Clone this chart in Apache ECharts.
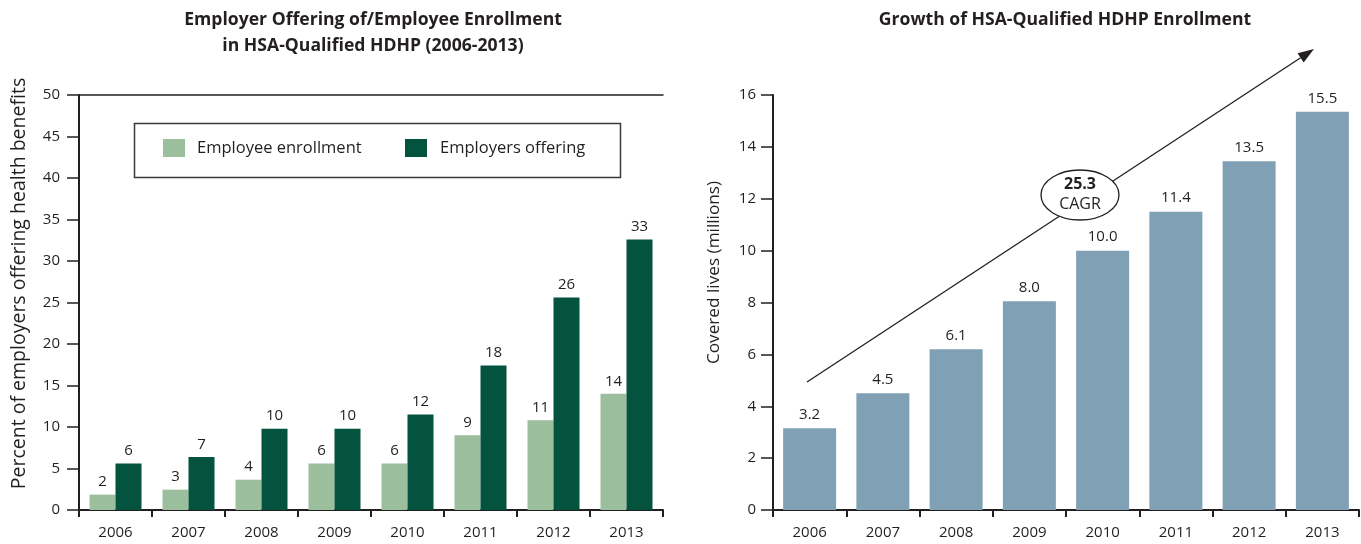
<!DOCTYPE html>
<html>
<head>
<meta charset="utf-8">
<script src="https://cdn.jsdelivr.net/npm/echarts@6/dist/echarts.min.js"></script>
<style>
html,body{margin:0;padding:0;background:#fff;}
#c{width:1361px;height:544px;}
</style>
</head>
<body>
<div id="c"></div>
<script>
// ---- data ----
var years = ['2006','2007','2008','2009','2010','2011','2012','2013'];
var employeeEnrollment = [1.85, 2.45, 3.65, 5.6, 5.6, 9.0, 10.8, 14.0];
var employersOffering = [5.6, 6.4, 9.8, 9.8, 11.5, 17.4, 25.6, 32.6];
var enrollmentLabels = ['2','3','4','6','6','9','11','14'];
var offeringLabels = ['6','7','10','10','12','18','26','33'];
var coveredLives = [3.15, 4.5, 6.2, 8.05, 10.0, 11.5, 13.45, 15.35];
var coveredLabels = ['3.2','4.5','6.1','8.0','10.0','11.4','13.5','15.5'];
var cagrValue = '25.3';

var FONT = '"Open Sans", "Noto Sans", sans-serif';
var TXT = '#231f20';

var chart = echarts.init(document.getElementById('c'), null, {renderer:'canvas'});

function yAxisBase(gridIndex, max, interval, name, gap, labelMargin, namePad, nameSize){
  return {
    type:'value', gridIndex:gridIndex, min:0, max:max, interval:interval,
    name:name, nameLocation:'middle', nameGap:gap,
    nameTextStyle:{fontFamily:FONT, fontSize:nameSize, color:TXT, padding:namePad},
    axisLine:{show:true, lineStyle:{color:TXT, width:2}},
    axisTick:{show:true, length:12, lineStyle:{color:TXT, width:1.5}},
    axisLabel:{fontFamily:FONT, fontSize:15, color:TXT, margin:labelMargin},
    splitLine:{show:false}
  };
}
function xAxisBase(gridIndex){
  return {
    type:'category', gridIndex:gridIndex, data:years,
    axisLine:{show:true, lineStyle:{color:TXT, width:2}},
    axisTick:{show:true, length:7, alignWithLabel:false, lineStyle:{color:TXT, width:2}},
    axisLabel:{fontFamily:FONT, fontSize:15, color:TXT, margin:15}
  };
}

// arrow geometry (annotation)
var aStart = [807, 382], aTip = [1314, 49];
var dx = aTip[0]-aStart[0], dy = aTip[1]-aStart[1], L = Math.sqrt(dx*dx+dy*dy);
var ux = dx/L, uy = dy/L, nx = -uy, ny = ux;
var headLen = 16, headHalf = 5.5;
var base = [aTip[0]-headLen*ux, aTip[1]-headLen*uy];

var option = {
  backgroundColor:'#fff',
  animation:false,
  title:[
    {text:'Employer Offering of/Employee Enrollment\nin HSA-Qualified HDHP (2006-2013)',
     left:373, top:7, textAlign:'center', padding:0,
     textStyle:{fontFamily:FONT, fontSize:17.6, fontWeight:'bold', color:TXT, lineHeight:26}},
    {text:'Growth of HSA-Qualified HDHP Enrollment',
     left:1065, top:7, textAlign:'center', padding:0,
     textStyle:{fontFamily:FONT, fontSize:17.6, fontWeight:'bold', color:TXT, lineHeight:26}}
  ],
  legend:[
    {data:['Employee enrollment'], left:163, top:139, padding:0, icon:'rect', itemWidth:22, itemHeight:18,
     textStyle:{fontFamily:FONT, fontSize:16.5, color:TXT, padding:[0,0,0,7]}, selectedMode:false},
    {data:['Employers offering'], left:405, top:139, padding:0, icon:'rect', itemWidth:22, itemHeight:18,
     textStyle:{fontFamily:FONT, fontSize:16.5, color:TXT, padding:[0,0,0,8]}, selectedMode:false}
  ],
  grid:[
    {left:79, top:95, width:584, height:415, containLabel:false},
    {left:773, top:95, width:586, height:415, containLabel:false}
  ],
  xAxis:[
    xAxisBase(0),
    xAxisBase(1),
    {type:'category', gridIndex:0, data:years, position:'top',
     axisLine:{show:true, lineStyle:{color:TXT, width:1.5}}, axisTick:{show:false}, axisLabel:{show:false}}
  ],
  yAxis:[
    yAxisBase(0, 50, 5, 'Percent of employers offering health benefits', 50, 19, [0,0,0,38], 19.5),
    yAxisBase(1, 16, 2, 'Covered lives (millions)', 50, 17, [0,0,0,60], 17.2)
  ],
  series:[
    {name:'Employee enrollment', type:'bar', xAxisIndex:0, yAxisIndex:0, data:employeeEnrollment,
     barWidth:26, barGap:'0%', itemStyle:{color:'#9bbe9d'},
     label:{show:true, position:'top', distance:5, fontFamily:FONT, fontSize:15, color:TXT,
            formatter:function(p){return enrollmentLabels[p.dataIndex];}}},
    {name:'Employers offering', type:'bar', xAxisIndex:0, yAxisIndex:0, data:employersOffering,
     barWidth:26, barGap:'0%', itemStyle:{color:'#03533f'},
     label:{show:true, position:'top', distance:5, fontFamily:FONT, fontSize:15, color:TXT,
            formatter:function(p){return offeringLabels[p.dataIndex];}}},
    {name:'Covered lives', type:'bar', xAxisIndex:1, yAxisIndex:1, data:coveredLives,
     barWidth:53, itemStyle:{color:'#80a1b5'},
     label:{show:true, position:'top', distance:6, fontFamily:FONT, fontSize:15, color:TXT,
            formatter:function(p){return coveredLabels[p.dataIndex];}}}
  ],
  graphic:[
    {type:'rect', left:132, top:121, shape:{width:486, height:54},
     style:{fill:'none', stroke:'#3a3a3a', lineWidth:1.5}, z:10},
    {type:'line', shape:{x1:aStart[0], y1:aStart[1], x2:base[0], y2:base[1]},
     style:{stroke:TXT, lineWidth:1.3}, z:10},
    {type:'polygon', shape:{points:[[aTip[0],aTip[1]],[base[0]+headHalf*nx, base[1]+headHalf*ny],[base[0]-headHalf*nx, base[1]-headHalf*ny]]},
     style:{fill:TXT}, z:10},
    {type:'ellipse', shape:{cx:1080, cy:195, rx:39, ry:25},
     style:{fill:'#fff', stroke:TXT, lineWidth:1.3}, z:11},
    {type:'text', x:1080, y:184, z:12,
     style:{text:cagrValue, fontFamily:FONT, fontSize:16, fontWeight:'bold', fill:TXT, align:'center', verticalAlign:'middle'}},
    {type:'text', x:1080, y:204, z:12,
     style:{text:'CAGR', fontFamily:FONT, fontSize:16, fill:TXT, align:'center', verticalAlign:'middle'}}
  ]
};
chart.setOption(option);
</script>
</body>
</html>
